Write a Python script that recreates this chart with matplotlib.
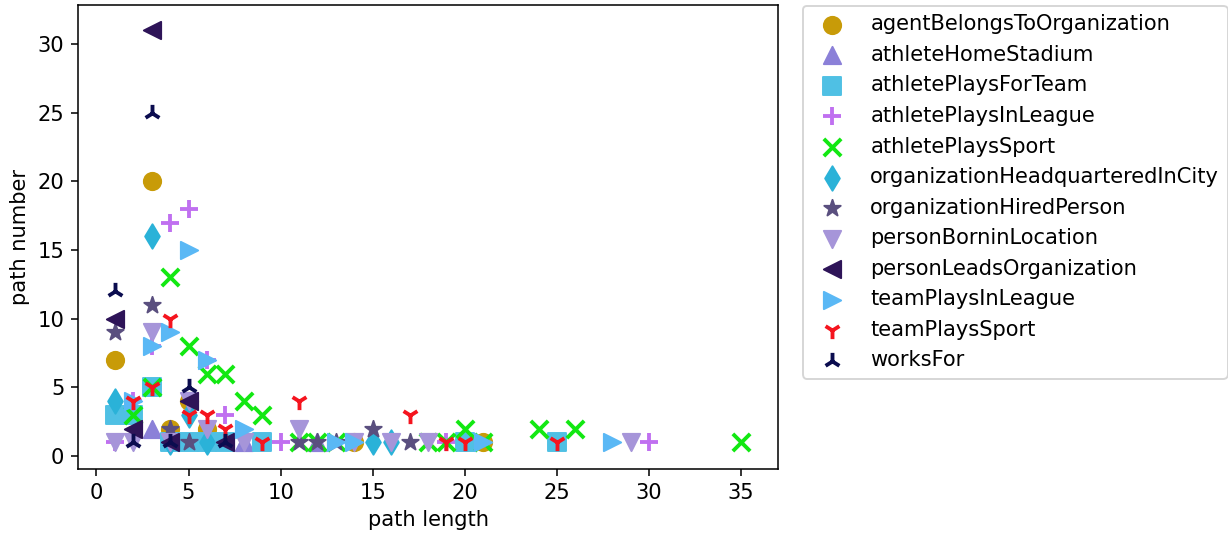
import matplotlib
matplotlib.use("Agg")
import matplotlib.pyplot as plt

# relation names, colours and markers
relations = ["agentBelongsToOrganization", "athleteHomeStadium", "athletePlaysForTeam",
             "athletePlaysInLeague", "athletePlaysSport", "organizationHeadquarteredInCity",
             "organizationHiredPerson", "personBorninLocation", "personLeadsOrganization",
             "teamPlaysInLeague", "teamPlaysSport", "worksFor"]
colors = ["#c89b08", "#8b80d8", "#4fc0e4", "#c070f0", "#12e812", "#2ab2d8",
          "#5a4f7f", "#a695d9", "#2e1458", "#5ab8f5", "#f5141e", "#0b0c4f"]
markers = ["o", "^", "s", "+", "x", "d", "*", "v", "<", ">", "1", "2"]

# (path length, path number)
agent_len = [1, 3, 4, 5, 6, 14, 21]
agent_num = [7, 20, 2, 4, 2, 1, 1]
stadium_len = [3, 8, 12]
stadium_num = [2, 1, 1]
team_len = [1, 2, 3, 4, 5, 6, 7, 9, 20, 25]
team_num = [3, 3, 5, 1, 1, 1, 1, 1, 1, 1]
league_len = [1, 2, 3, 4, 5, 6, 7, 10, 19, 30]
league_num = [1, 4, 8, 17, 18, 7, 3, 1, 1, 1]
sport_len = [2, 3, 4, 5, 6, 7, 8, 9, 11, 12, 13, 18, 19, 20, 21, 24, 26, 35]
sport_num = [3, 5, 13, 8, 6, 6, 4, 3, 1, 1, 1, 1, 1, 2, 1, 2, 2, 1]
hq_len = [1, 3, 4, 5, 6, 15, 16]
hq_num = [4, 16, 1, 3, 1, 1, 1]
hired_len = [1, 3, 4, 5, 11, 12, 13, 15, 17]
hired_num = [9, 11, 2, 1, 1, 1, 1, 2, 1]
born_len = [1, 2, 3, 4, 5, 6, 8, 11, 14, 16, 18, 29]
born_num = [1, 1, 9, 1, 4, 2, 1, 2, 1, 1, 1, 1]
leads_len = [1, 2, 3, 4, 5, 7]
leads_num = [10, 2, 31, 1, 4, 1]
tleague_len = [2, 3, 4, 5, 6, 8, 13, 14, 21, 28]
tleague_num = [4, 8, 9, 15, 7, 2, 1, 1, 1, 1]
tsport_len = [2, 3, 4, 5, 6, 7, 9, 11, 17, 19, 20, 25]
tsport_num = [4, 5, 10, 3, 3, 2, 1, 4, 3, 1, 1, 1]
works_len = [1, 2, 3, 4, 5, 7]
works_num = [12, 1, 25, 1, 5, 1]

lengths = [agent_len, stadium_len, team_len, league_len, sport_len, hq_len,
           hired_len, born_len, leads_len, tleague_len, tsport_len, works_len]
numbers = [agent_num, stadium_num, team_num, league_num, sport_num, hq_num,
           hired_num, born_num, leads_num, tleague_num, tsport_num, works_num]

plt.rcParams["font.size"] = 10.9

dpi = 139
fig = plt.figure(figsize=(1228 / dpi, 538 / dpi), dpi=dpi)
ax = fig.add_axes([78 / 1228, 1 - 469 / 538, 700 / 1228, 464 / 538])

for name, c, m, xs, ys in zip(relations, colors, markers, lengths, numbers):
    if m in ("+", "x", "1", "2"):
        ax.scatter(xs, ys, c=c, marker=m, s=80, label=name, linewidths=2)
    else:
        ax.scatter(xs, ys, c=c, marker=m, s=80, label=name)

ax.set_xlim(-1.0, 37.0)
ax.set_ylim(-0.95, 32.85)
ax.set_xticks([0, 5, 10, 15, 20, 25, 30, 35])
ax.set_yticks([0, 5, 10, 15, 20, 25, 30])
ax.set_xlabel("path length")
ax.set_ylabel("path number")

ax.legend(loc="upper left", bbox_to_anchor=(803 / 1228, 1 - 6 / 538),
          bbox_transform=fig.transFigure, borderaxespad=0, scatterpoints=1)

plt.savefig("out.png", dpi=dpi)
